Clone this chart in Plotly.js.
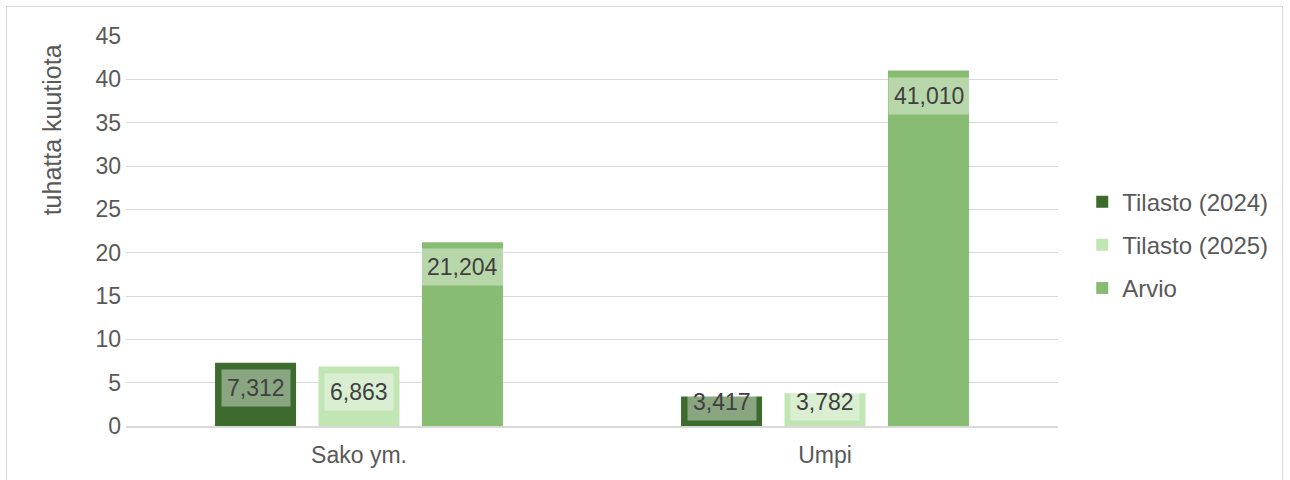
<!DOCTYPE html>
<html><head><meta charset="utf-8">
<script src="https://cdn.plot.ly/plotly-3.0.1.min.js"></script>
<style>
html,body{margin:0;padding:0;background:#fff;}
#wrap{position:relative;width:1290px;height:480px;}
#frame{position:absolute;left:6px;top:6px;width:1277px;height:480px;border:1px solid #d9d9d9;box-sizing:border-box;pointer-events:none;}
#chart{position:absolute;left:0;top:0;width:1290px;height:480px;}
</style></head>
<body>
<div id="wrap"><div id="chart"></div><div id="frame"></div></div>
<script>
const categories = ["Sako ym.", "Umpi"];
const seriesNames = ["Tilasto (2024)", "Tilasto (2025)", "Arvio"];
const tilasto2024 = [7.312, 3.417];
const tilasto2025 = [6.863, 3.782];
const arvio = [21.204, 41.010];
const yTicks = [0,5,10,15,20,25,30,35,40,45];

const colors = ["#3c6b2d", "#c1e5b3", "#87bc72"];
const seriesValues = [tilasto2024, tilasto2025, arvio];
const font = "Liberation Sans, Arial, sans-serif";

const traces = seriesValues.map((vals, i) => ({
  type: "bar",
  name: seriesNames[i],
  x: categories,
  y: vals,
  marker: {color: colors[i]},
  legendgroup: "g" + i,
  hoverinfo: "skip"
}));

function fmt(v){ return Math.round(v*1000).toLocaleString("en-US"); }

const slot = 103.5;
const annotations = [];
seriesValues.forEach((vals, i) => {
  vals.forEach((v, j) => {
    annotations.push({
      x: categories[j], y: Math.max(v, 5.65), xref: "x", yref: "y",
      xshift: (i - 1) * slot, yshift: -6,
      yanchor: "top", xanchor: "center",
      text: fmt(v), showarrow: false,
      font: {family: font, size: 23, color: "#404040"},
      bgcolor: "rgba(255,255,255,0.4)", borderpad: 5
    });
  });
});
annotations.push({
  xref: "paper", yref: "paper", x: -0.079, y: 0.759,
  xanchor: "center", yanchor: "middle", textangle: -90,
  text: "tuhatta kuutiota", showarrow: false,
  font: {family: font, size: 25, color: "#595959"}
});

const layout = {
  width: 1290, height: 480,
  margin: {l: 126, r: 232, t: 36, b: 54},
  paper_bgcolor: "#ffffff", plot_bgcolor: "#ffffff",
  barmode: "group", bargap: 0.334, bargroupgap: 0.217,
  font: {family: font, color: "#595959", size: 23},
  xaxis: {
    type: "category", showgrid: false, zeroline: false,
    showline: true, linecolor: "#d9d9d9", linewidth: 1.5,
    ticks: "", ticklabelstandoff: 8, tickfont: {size: 23, color: "#595959"}
  },
  yaxis: {
    range: [0, 45], tickvals: yTicks, ticktext: yTicks.map(String),
    showgrid: true, gridcolor: "#d9d9d9", gridwidth: 1,
    zeroline: false, showline: false, ticks: "", ticklen: 0,
    ticklabelstandoff: 4,
    tickfont: {size: 23, color: "#595959"}
  },
  legend: {
    x: 1.026, xanchor: "left", y: 0.464, yanchor: "middle",
    font: {size: 24, color: "#595959"},
    tracegroupgap: 9, itemwidth: 30
  },
  annotations: annotations,
  showlegend: true
};

Plotly.newPlot("chart", traces, layout, {displayModeBar: false, staticPlot: true});
</script>
</body></html>
